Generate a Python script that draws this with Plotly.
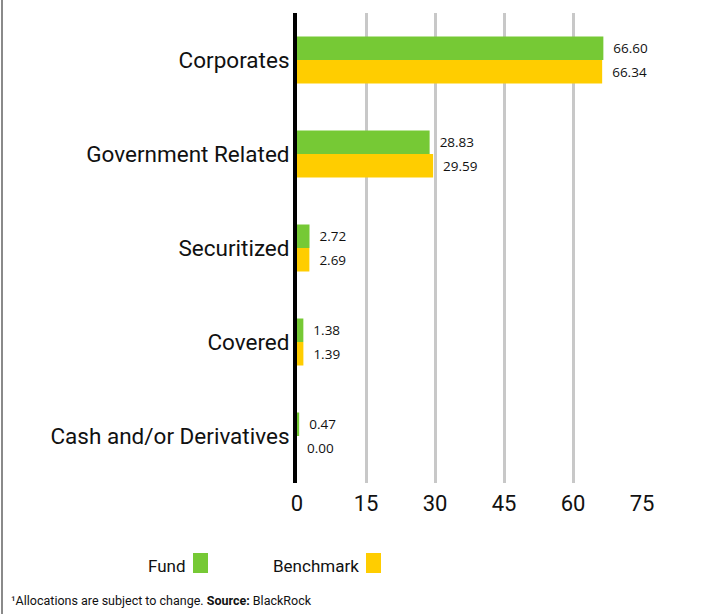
import plotly.graph_objects as go

categories = ["Corporates", "Government Related", "Securitized", "Covered", "Cash and/or Derivatives"]
fund = [66.60, 28.83, 2.72, 1.38, 0.47]
benchmark = [66.34, 29.59, 2.69, 1.39, 0.00]
series_names = ["Fund", "Benchmark"]
x_ticks = [0, 15, 30, 45, 60, 75]
footnote = "¹Allocations are subject to change. <b>Source:</b> BlackRock"

GREEN = "#76C935"
YELLOW = "#FFCD00"
W, H = 718, 614
ML, MR, MT, MB = 297, 76, 13, 131
PW, PH = W - ML - MR, H - MT - MB

fig = go.Figure()
for name, vals, col in [(series_names[0], fund, GREEN), (series_names[1], benchmark, YELLOW)]:
    fig.add_trace(go.Bar(
        y=categories, x=vals, name=name, orientation="h",
        marker=dict(color=col, line=dict(width=0)),
        text=vals, texttemplate="\u00a0\u00a0%{x:.2f}", textposition="outside",
        textfont=dict(family="Open Sans", size=13.5, color="#111"),
        cliponaxis=False, showlegend=False, hoverinfo="skip",
    ))

def px_x(px):
    return (px - ML) / PW

def px_y(py):
    return 1 - (py - MT) / PH

shapes = [
    dict(type="line", xref="paper", yref="paper", x0=px_x(2), x1=px_x(2), y0=px_y(H), y1=px_y(0),
         line=dict(color="#8A8A8A", width=2)),
]
annotations = [
    dict(text=footnote, xref="paper", yref="paper", x=px_x(9), y=px_y(600), xanchor="left", yanchor="middle",
         showarrow=False, font=dict(family="Roboto", size=12.5, color="#111")),
]
leg = [(series_names[0], GREEN, 193), (series_names[1], YELLOW, 366)]
for name, col, sx in leg:
    shapes.append(dict(type="rect", xref="paper", yref="paper", x0=px_x(sx), x1=px_x(sx + 15),
                       y0=px_y(573), y1=px_y(553), fillcolor=col, line=dict(width=0)))
    annotations.append(dict(text=name, xref="paper", yref="paper", x=px_x(sx - 5), y=px_y(566),
                            xanchor="right", yanchor="middle", showarrow=False,
                            font=dict(family="Roboto", size=17, color="#111")))

fig.update_layout(
    width=W, height=H,
    margin=dict(l=ML, r=MR, t=MT, b=MB, autoexpand=False),
    paper_bgcolor="white", plot_bgcolor="white",
    barmode="group", bargap=0.5, bargroupgap=0,
    shapes=shapes, annotations=annotations,
    xaxis=dict(range=[0, 75], tickvals=x_ticks, ticktext=[str(t) for t in x_ticks],
               showgrid=True, gridcolor="#C8C8C8", gridwidth=3, zeroline=False, showline=False,
               tickfont=dict(family="Roboto", size=22, color="#111"), ticks="", ticklabelstandoff=5),
    yaxis=dict(autorange="reversed", showgrid=False, zeroline=False,
               showline=True, linecolor="black", linewidth=4,
               tickfont=dict(family="Roboto", size=22.5, color="#111"), ticks="", ticklabelstandoff=-1),
    font=dict(family="Roboto"),
)

fig.write_html("out.html", config={"displayModeBar": False},
               post_script="document.body.style.margin='0';document.body.style.padding='0';")
